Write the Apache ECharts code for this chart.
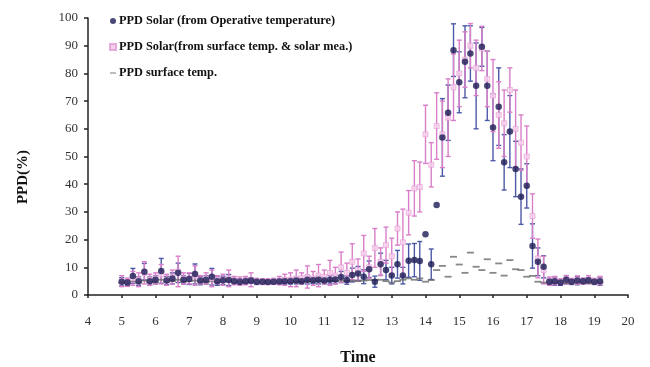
<!DOCTYPE html>
<html>
<head>
<meta charset="utf-8">
<script src="https://cdn.jsdelivr.net/npm/echarts@6/dist/echarts.min.js"></script>
<style>
  html, body { margin: 0; padding: 0; background: #fff; }
  #chart { width: 650px; height: 367px; }
</style>
</head>
<body>
<div id="chart"></div>
<script>
// Sampling times (hours, 10-minute steps)
const hours = [5.00,5.17,5.33,5.50,5.67,5.83,6.00,6.17,6.33,6.50,6.67,6.83,7.00,7.17,7.33,7.50,7.67,7.83,8.00,8.17,8.33,8.50,8.67,8.83,9.00,9.17,9.33,9.50,9.67,9.83,10.00,10.17,10.33,10.50,10.67,10.83,11.00,11.17,11.33,11.50,11.67,11.83,
  12.00,12.17,12.33,12.50,12.67,12.83,13.00,13.17,13.33,13.50,13.67,13.83,14.00,14.17,14.33,14.50,14.67,14.83,15.00,15.17,15.33,15.50,15.67,15.83,16.00,16.17,16.33,16.50,16.67,16.83,17.00,17.17,17.33,17.50,17.67,17.83,18.00,18.17,18.33,18.50,18.67,18.83,19.00,19.17];

// PPD Solar from operative temperature (mean and spread)
const opPPD = [4.8,4.5,6.9,5.0,8.4,5.0,5.5,8.7,5.2,6.0,8.0,5.5,5.8,7.6,5.2,5.5,6.6,5.0,5.3,5.4,5.0,4.8,5.0,5.2,4.8,4.8,4.7,4.8,4.9,5.0,5.0,5.2,5.0,5.5,5.3,5.5,5.2,5.5,5.6,6.5,5.4,7.2,
  7.8,6.6,9.3,4.8,11.1,9.0,7.0,11.1,7.0,12.4,12.6,12.3,21.9,11.1,32.5,56.9,65.8,88.4,76.8,84.2,87.2,75.5,89.6,75.5,60.5,68.0,47.9,59.0,45.5,35.5,39.4,17.7,12.0,10.2,4.8,5.0,4.5,5.5,4.8,5.2,5.0,5.3,4.8,5.0];
const opErr = [1.5,1.0,2.7,1.5,3.0,1.5,1.5,4.5,1.5,2.0,3.5,1.5,2.0,3.6,1.5,1.5,3.0,1.5,1.5,2.0,1.0,1.0,1.0,1.0,1.0,0.8,0.8,0.8,1.0,1.0,1.0,1.2,1.0,1.5,1.2,1.5,1.2,1.5,1.5,2.0,1.5,2.5,
  2.5,2.5,3.0,2.0,4.0,3.5,3.0,5.0,3.0,6.0,6.0,7.0,0,5.5,0,14,10,9.5,11,13,10,15.5,7,12.5,12,14,10,13,10,10,8,8,5,4,1,1.5,1,1.5,1,1.5,1,1,1,1.5];

// PPD Solar from surface temperature & solar measurement (mean and spread)
const solPPD = [5.0,4.6,6.0,5.5,8.0,5.5,6.0,7.5,5.5,6.5,8.5,6.0,6.0,7.0,5.5,6.0,6.0,5.5,5.5,6.0,5.2,5.0,5.2,5.5,5.0,4.8,4.8,5.0,5.2,5.5,5.5,6.0,6.0,6.5,6.0,7.0,6.5,8.0,7.0,10.0,8.0,12.0,
  9.0,15.0,10.0,17.0,12.0,18.0,14.0,24.0,19.0,29.7,38.5,39.0,58.0,47.0,61.0,58.0,64.0,75.0,80.0,85.0,90.0,82.0,89.0,78.0,72.0,65.0,62.0,74.0,60.0,55.0,50.0,28.5,13.2,9.0,5.0,5.2,4.8,5.5,5.0,5.4,5.0,5.5,5.0,5.2];
const solErr = [2.0,1.5,2.5,2.5,4.0,2.0,2.0,3.5,2.0,2.5,5.5,2.0,2.0,3.5,1.5,2.0,3.0,1.5,2.0,3.0,1.5,1.5,1.5,2.5,1.0,1.0,1.0,1.0,1.5,2.0,2.5,3.0,2.0,4.0,2.5,4.0,2.5,4.5,3.0,5.5,3.5,6.5,
  4.0,6.5,4.0,7.0,5.0,6.5,6.5,6.0,12.0,8.0,10.0,9.0,10.5,8.0,12.0,12.0,14.0,12.0,12.0,10.0,8.0,10.0,8.0,10.0,13.0,12.0,12.0,8.0,14.0,10.0,11.0,8.0,7.0,5.0,1.5,1.5,1.0,1.5,1.0,1.5,1.0,1.5,1.0,1.5];

// PPD from surface temperature
const surfPPD = [4.5,4.3,5.0,4.5,5.2,4.8,4.6,5.5,4.8,5.0,5.5,4.8,5.0,5.2,4.8,4.6,5.0,4.7,4.8,5.2,4.6,4.5,4.6,4.8,4.5,4.4,4.4,4.5,4.6,4.7,4.6,4.8,4.7,4.9,4.8,5.0,4.8,5.0,5.0,5.2,5.0,5.2,
  5.0,5.2,5.4,5.4,5.5,5.0,4.5,5.0,5.5,6.0,5.5,6.0,4.8,5.4,9.0,10.5,6.6,13.8,11.0,8.0,15.3,10.2,9.0,12.9,8.0,11.4,7.0,12.6,9.3,9.0,6.6,6.9,4.8,4.5,4.5,4.4,4.5,4.3,4.4,4.5,4.4,4.3,4.4,4.5];

const seriesNames = [
  'PPD Solar (from Operative temperature)',
  'PPD Solar(from surface temp. & solar mea.)',
  'PPD surface temp.'
];
const yTicks = [0, 10, 20, 30, 40, 50, 60, 70, 80, 90, 100];

const serif = '"Liberation Serif", "DejaVu Serif", serif';

function triples(vals, errs) {
  return hours.map((h, i) => [h, vals[i], errs[i]]);
}
function pairs(vals) {
  return hours.map((h, i) => [h, vals[i]]);
}

// vertical error bar with short caps
function errorBar(color) {
  return function (params, api) {
    const x = api.value(0), v = api.value(1), e = api.value(2);
    if (!e) return null;
    const hi = api.coord([x, v + e]);
    const lo = api.coord([x, v - e]);
    const cap = 2.5;
    const style = { stroke: color, lineWidth: 1.4 };
    return {
      type: 'group',
      children: [
        { type: 'line', shape: { x1: hi[0], y1: hi[1], x2: lo[0], y2: lo[1] }, style },
        { type: 'line', shape: { x1: hi[0] - cap, y1: hi[1], x2: hi[0] + cap, y2: hi[1] }, style },
        { type: 'line', shape: { x1: lo[0] - cap, y1: lo[1], x2: lo[0] + cap, y2: lo[1] }, style }
      ]
    };
  };
}

const chart = echarts.init(document.getElementById('chart'));
chart.setOption({
  animation: false,
  backgroundColor: '#ffffff',
  grid: { left: 88, right: 22, top: 18, bottom: 72, containLabel: false, outerBoundsMode: 'none' },
  legend: {
    orient: 'vertical',
    left: 104,
    top: 10,
    itemGap: 14,
    itemWidth: 6,
    itemHeight: 6,
    textStyle: { fontFamily: serif, fontWeight: 'bold', fontSize: 12.3, color: '#111', padding: [0, 0, 0, -2] },
    data: [
      { name: seriesNames[0], icon: 'circle', itemStyle: { color: '#1b1b55' } },
      { name: seriesNames[1], icon: 'rect', itemStyle: { color: '#f2c4e4' } },
      { name: seriesNames[2], icon: 'path://M0,0 M0,4h10v2h-10z M10,10', itemStyle: { color: '#777' } }
    ]
  },
  xAxis: {
    type: 'value',
    min: 4, max: 20, interval: 1,
    name: 'Time',
    nameLocation: 'middle',
    nameGap: 55,
    nameTextStyle: { fontFamily: serif, fontWeight: 'bold', fontSize: 16, color: '#111' },
    axisLine: { lineStyle: { color: '#222', width: 1.5 } },
    axisTick: { show: true, length: 3, lineStyle: { color: '#222', width: 1.5 } },
    axisLabel: { fontFamily: serif, fontSize: 13, color: '#333', margin: 20 },
    splitLine: { show: false }
  },
  yAxis: {
    type: 'value',
    min: 0, max: 100, interval: 10,
    axisLine: { show: true, lineStyle: { color: '#222', width: 1.5 } },
    axisTick: { show: true, length: 4, lineStyle: { color: '#222', width: 1.5 } },
    axisLabel: {
      fontFamily: serif, fontSize: 13, color: '#333', margin: 10,
      formatter: v => (yTicks.includes(v) ? String(v) : '')
    },
    splitLine: { show: false }
  },
  graphic: [{
    type: 'text',
    x: 23,
    y: 177,
    rotation: Math.PI / 2,
    style: {
      text: 'PPD(%)', font: 'bold 15px ' + serif, fill: '#111',
      align: 'center', verticalAlign: 'middle'
    }
  }],
  series: [
    {
      name: seriesNames[0] + ' err',
      type: 'custom',
      renderItem: errorBar('#4c59a6'),
      data: triples(opPPD, opErr),
      encode: { x: 0, y: 1 },
      z: 2,
      silent: true
    },
    {
      name: seriesNames[1] + ' err',
      type: 'custom',
      renderItem: errorBar('#d97fc9'),
      data: triples(solPPD, solErr),
      encode: { x: 0, y: 1 },
      z: 3,
      silent: true
    },
    {
      name: seriesNames[2],
      type: 'scatter',
      symbol: 'rect',
      symbolSize: [7, 1.8],
      itemStyle: { color: '#6a6a6a' },
      data: pairs(surfPPD),
      z: 4
    },
    {
      name: seriesNames[1],
      type: 'scatter',
      symbol: 'rect',
      symbolSize: 5,
      itemStyle: { color: '#f6d3ec', borderColor: '#e59ad6', borderWidth: 0.8 },
      data: pairs(solPPD),
      z: 5
    },
    {
      name: seriesNames[0],
      type: 'scatter',
      symbol: 'circle',
      symbolSize: 6.5,
      itemStyle: { color: '#1b1b55' },
      data: pairs(opPPD),
      z: 6
    }
  ]
});
</script>
</body>
</html>
